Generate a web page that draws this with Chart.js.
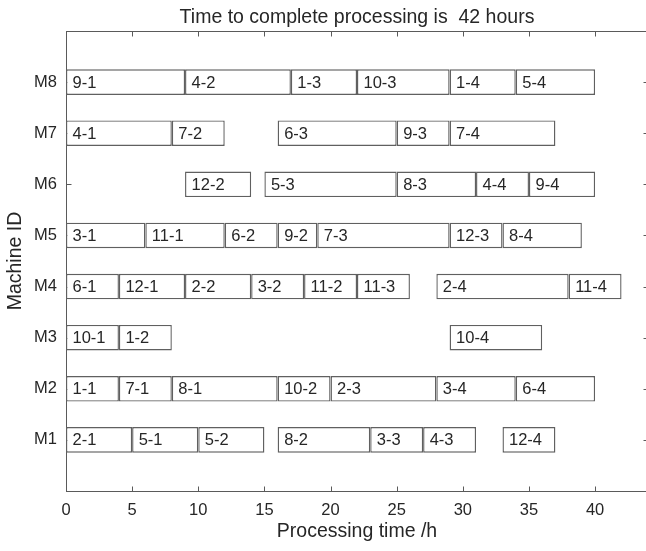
<!DOCTYPE html>
<html>
<head>
<meta charset="utf-8">
<title>Machine schedule</title>
<script src="https://cdn.jsdelivr.net/npm/chart.js@4/dist/chart.umd.min.js"></script>
<style>
    html, body { margin: 0; padding: 0; background: #fff; overflow: hidden; }
    #wrap { position: relative; width: 650px; height: 551px; }
</style>
</head>
<body>
<div id="wrap"><canvas id="gantt"></canvas></div>
<script>
// Machines on the y axis (bottom to top)
const machines = ['M1', 'M2', 'M3', 'M4', 'M5', 'M6', 'M7', 'M8'];

// Operations: "job-step", machine row, start and end hour
const opNames = [
    '2-1', '5-1', '5-2', '8-2', '3-3', '4-3', '12-4',
    '1-1', '7-1', '8-1', '10-2', '2-3', '3-4', '6-4',
    '10-1', '1-2', '10-4',
    '6-1', '12-1', '2-2', '3-2', '11-2', '11-3', '2-4', '11-4',
    '3-1', '11-1', '6-2', '9-2', '7-3', '12-3', '8-4',
    '12-2', '5-3', '8-3', '4-4', '9-4',
    '4-1', '7-2', '6-3', '9-3', '7-4',
    '9-1', '4-2', '1-3', '10-3', '1-4', '5-4'
];
const opMachine = [
    1, 1, 1, 1, 1, 1, 1,
    2, 2, 2, 2, 2, 2, 2,
    3, 3, 3,
    4, 4, 4, 4, 4, 4, 4, 4,
    5, 5, 5, 5, 5, 5, 5,
    6, 6, 6, 6, 6,
    7, 7, 7, 7, 7,
    8, 8, 8, 8, 8, 8
];
const opStart = [
    0, 5, 10, 16, 23, 27, 33,
    0, 4, 8, 16, 20, 28, 34,
    0, 4, 29,
    0, 4, 9, 14, 18, 22, 28, 38,
    0, 6, 12, 16, 19, 29, 33,
    9, 15, 25, 31, 35,
    0, 8, 16, 25, 29,
    0, 9, 17, 22, 29, 34
];
const opEnd = [
    5, 10, 15, 23, 27, 31, 37,
    4, 8, 16, 20, 28, 34, 40,
    4, 8, 36,
    4, 9, 14, 18, 22, 26, 38, 42,
    6, 12, 16, 19, 29, 33, 39,
    14, 25, 31, 35, 40,
    8, 12, 25, 29, 37,
    9, 17, 22, 29, 34, 40
];

const xTicks = [0, 5, 10, 15, 20, 25, 30, 35, 40];

const FONT = "'Liberation Sans', Arial, Helvetica, sans-serif";
const TEXT = '#262626';
const LINE = '#5a5a5a';

const makespan = Math.max(...opEnd);
const titleText = 'Time to complete processing is  ' + makespan + ' hours';

// Box round the plot with inward ticks on all four sides (bars cover it)
const axesBox = {
    id: 'axesBox',
    beforeDatasetsDraw(chart) {
        const { ctx, chartArea: a, scales: { x, y } } = chart;
        const L = Math.round(a.left) + 0.5, R = Math.round(a.right) + 0.5;
        const T = Math.round(a.top) + 0.5, B = Math.round(a.bottom) + 0.5;
        ctx.save();
        ctx.strokeStyle = LINE;
        ctx.lineWidth = 1;
        ctx.strokeRect(L, T, R - L, B - T);
        ctx.beginPath();
        x.ticks.forEach(t => {
            const px = Math.round(x.getPixelForValue(t.value)) + 0.5;
            ctx.moveTo(px, B); ctx.lineTo(px, B - 5);
            ctx.moveTo(px, T); ctx.lineTo(px, T + 5);
        });
        y.ticks.forEach(t => {
            const py = Math.round(y.getPixelForValue(t.value)) + 0.5;
            ctx.moveTo(L, py); ctx.lineTo(L + 5, py);
            ctx.moveTo(R, py); ctx.lineTo(R - 5, py);
        });
        ctx.stroke();
        ctx.restore();
    }
};

// Operation names written inside each bar, at its left end
const barNames = {
    id: 'barNames',
    afterDatasetsDraw(chart) {
        const { ctx } = chart;
        const meta = chart.getDatasetMeta(0);
        ctx.save();
        ctx.fillStyle = TEXT;
        ctx.font = '16.5px ' + FONT;
        ctx.textAlign = 'left';
        ctx.textBaseline = 'middle';
        meta.data.forEach((bar, i) => {
            ctx.fillText(opNames[i], Math.min(bar.base, bar.x) + 6.5, bar.y + 1);
        });
        ctx.restore();
    }
};

// Title centred over the plot area
const plotTitle = {
    id: 'plotTitle',
    afterDraw(chart) {
        const { ctx, chartArea: a } = chart;
        ctx.save();
        ctx.fillStyle = TEXT;
        ctx.font = '19.5px ' + FONT;
        ctx.textAlign = 'center';
        ctx.textBaseline = 'alphabetic';
        ctx.fillText(titleText, (a.left + a.right) / 2, 23);
        ctx.restore();
    }
};

new Chart(document.getElementById('gantt'), {
    type: 'bar',
    data: {
        datasets: [{
            data: opNames.map((n, i) => ({ x: [opStart[i], opEnd[i]], y: opMachine[i] })),
            backgroundColor: '#ffffff',
            borderColor: '#606060',
            borderWidth: 1.4,
            borderSkipped: false,
            categoryPercentage: 1,
            barPercentage: 0.5
        }]
    },
    options: {
        indexAxis: 'y',
        responsive: true,
        maintainAspectRatio: false,
        animation: false,
        layout: { padding: { top: 31, right: 2, left: 0, bottom: 0 } },
        plugins: {
            legend: { display: false },
            tooltip: { enabled: false }
        },
        scales: {
            x: {
                type: 'linear',
                min: 0,
                max: 44,
                afterBuildTicks: s => { s.ticks = xTicks.map(v => ({ value: v })); },
                afterFit: s => { s.height = 60; },
                grid: { display: false, drawTicks: false },
                border: { display: false },
                ticks: {
                    color: TEXT,
                    font: { family: FONT, size: 16.5 },
                    padding: 10,
                    maxRotation: 0,
                    autoSkip: false
                },
                title: {
                    display: true,
                    text: 'Processing time /h',
                    color: TEXT,
                    font: { family: FONT, size: 19.5 },
                    padding: { top: 0, bottom: 8 }
                }
            },
            y: {
                type: 'linear',
                min: 0,
                max: 9,
                offset: false,
                afterBuildTicks: s => { s.ticks = machines.map((m, i) => ({ value: i + 1 })); },
                afterFit: s => { s.width = 66; },
                grid: { display: false, drawTicks: false },
                border: { display: false },
                ticks: {
                    color: TEXT,
                    font: { family: FONT, size: 16.5 },
                    padding: 9,
                    callback: v => machines[v - 1]
                },
                title: {
                    display: true,
                    text: 'Machine ID',
                    color: TEXT,
                    font: { family: FONT, size: 19.5 },
                    padding: { top: 4, bottom: 0 }
                }
            }
        }
    },
    plugins: [axesBox, barNames, plotTitle]
});
</script>
</body>
</html>
